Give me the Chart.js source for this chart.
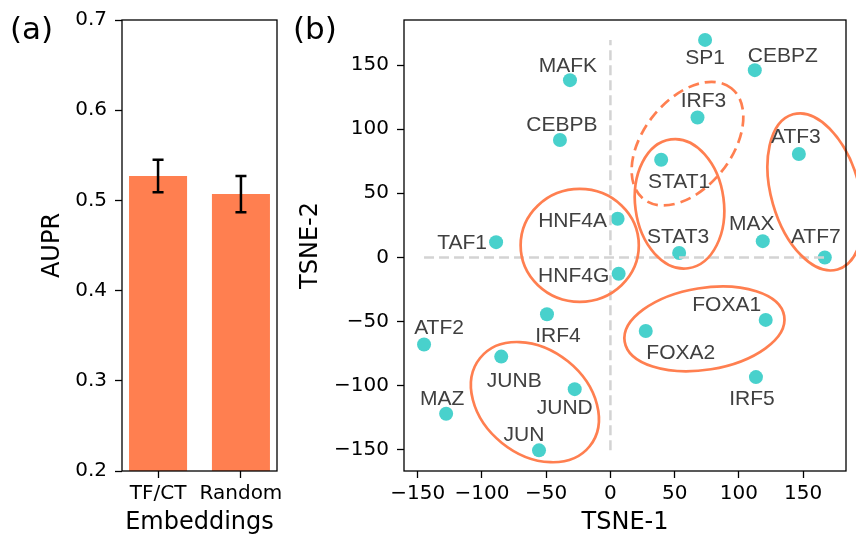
<!DOCTYPE html>
<html>
<head>
<meta charset="utf-8">
<script src="https://cdn.jsdelivr.net/npm/chart.js@4"></script>
<style>
  body { margin: 0; background: #fff; overflow: hidden; }
  #wrap { position: relative; width: 856px; height: 535px; }
  canvas { position: absolute; top: 0; }
  #chartA { left: 0; }
  #chartB { left: 290px; }
  .panel { position: absolute; font-family: "DejaVu Sans"; font-size: 31px; line-height: 31px; color: #000; }
</style>
</head>
<body>
<div id="wrap">
  <canvas id="chartA" width="290" height="535"></canvas>
  <canvas id="chartB" width="566" height="535"></canvas>
  <div class="panel" style="left:10px;top:13px">(a)</div>
  <div class="panel" style="left:293px;top:13px">(b)</div>
</div>
<script>
// (a) AUPR by embedding type
const embeddings = ["TF/CT", "Random"];
const aupr = [0.527, 0.507];
const auprErr = [0.018, 0.020];
const auprTicks = [0.2, 0.3, 0.4, 0.5, 0.6, 0.7];

// (b) TSNE of the TF embeddings
const tfNames = ["SP1", "CEBPZ", "MAFK", "IRF3", "CEBPB", "ATF3", "STAT1", "HNF4A",
  "TAF1", "MAX", "STAT3", "ATF7", "HNF4G", "IRF4", "FOXA1", "FOXA2", "ATF2", "JUNB",
  "IRF5", "JUND", "MAZ", "JUN"];
const tsne1 = [73.7, 112.4, -31.5, 67.8, -39.3, 146.7, 39.5, 5.6,
  -89.0, 118.6, 53.5, 166.9, 6.4, -49.4, 120.9, 27.5, -145.1, -85.0,
  113.3, -27.8, -127.9, -55.6];
const tsne2 = [169.6, 146.0, 138.2, 109.1, 91.5, 80.6, 76.2, 30.1,
  11.9, 12.7, 3.4, 0.0, -12.7, -44.3, -48.7, -57.3, -67.9, -77.3,
  -93.3, -102.7, -121.9, -150.4];
const tsneTicks = [-150, -100, -50, 0, 50, 100, 150];

// circled groups, in TSNE units (centre, half axes, angle in degrees)
const groupX = [60.0, 53.8, 159.5, -23.9, 73.2, -58.8];
const groupY = [88.7, 41.8, 51.1, 9.4, -55.7, -112.8];
const groupA = [55.1, 50.7, 62.9, 46.0, 62.9, 54.8];
const groupB = [34.3, 34.5, 34.3, 44.0, 31.9, 40.9];
const groupAngle = [51.7, 97.6, 106, 0, 9.2, -38.9];
const groupDashed = [true, false, false, false, false, false];

// where each name sits relative to its point (pixels)
const labelOffset = {
  SP1: [0, 18], CEBPZ: [28, -14], MAFK: [-2, -14], IRF3: [6, -16], CEBPB: [2, -15],
  ATF3: [-3, -17], STAT1: [18, 23], HNF4A: [-45, 2], TAF1: [-34, 1], MAX: [-11, -17],
  STAT3: [-1, -16], ATF7: [-9, -20], HNF4G: [-45, 2], IRF4: [11, 22], FOXA1: [-39, -15],
  FOXA2: [35, 22], ATF2: [15, -16], JUNB: [13, 25], IRF5: [-4, 22], JUND: [-10, 19],
  MAZ: [-4, -15], JUN: [-15, -15],
};

const CORAL = "#FF7F50";
const TURQ = "#48D1CC";

Chart.defaults.font.family = "'DejaVu Sans'";
Chart.defaults.color = "#000";

const minus = (v) => String(v).replace("-", "\u2212");

const tickGrid = {
  drawOnChartArea: false,
  offset: false,
  tickLength: 7,
  tickColor: "#000",
  tickWidth: 1.3,
};

const frame = {
  id: "frame",
  afterDatasetsDraw(chart) {
    const { ctx, chartArea: a } = chart;
    ctx.save();
    ctx.strokeStyle = "#000";
    ctx.lineWidth = 1.3;
    ctx.strokeRect(a.left, a.top, a.right - a.left, a.bottom - a.top);
    ctx.restore();
  },
};

const errorBars = {
  id: "errorBars",
  afterDatasetsDraw(chart) {
    const { ctx } = chart;
    const { x, y } = chart.scales;
    ctx.save();
    ctx.strokeStyle = "#000";
    ctx.lineWidth = 2.5;
    aupr.forEach((v, i) => {
      const px = x.getPixelForValue(i);
      const top = y.getPixelForValue(v + auprErr[i]);
      const bot = y.getPixelForValue(v - auprErr[i]);
      ctx.beginPath();
      ctx.moveTo(px, top);
      ctx.lineTo(px, bot);
      ctx.moveTo(px - 5.5, top);
      ctx.lineTo(px + 5.5, top);
      ctx.moveTo(px - 5.5, bot);
      ctx.lineTo(px + 5.5, bot);
      ctx.stroke();
    });
    ctx.restore();
  },
};

new Chart(document.getElementById("chartA"), {
  type: "bar",
  data: {
    datasets: [{
      data: aupr.map((v, i) => ({ x: i, y: v })),
      backgroundColor: CORAL,
      borderWidth: 0,
      barPercentage: 0.7,
      categoryPercentage: 1,
    }],
  },
  options: {
    responsive: false,
    animation: false,
    devicePixelRatio: 1,
    layout: { padding: { top: 19.5, right: 13, bottom: 0, left: 0 } },
    plugins: { legend: { display: false }, tooltip: { enabled: false } },
    scales: {
      x: {
        type: "linear",
        min: -0.435,
        max: 1.435,
        offset: false,
        grid: tickGrid,
        border: { display: false },
        afterBuildTicks: (s) => { s.ticks = embeddings.map((_, i) => ({ value: i })); },
        ticks: { callback: (v) => embeddings[v], padding: 4, font: { size: 20 }, maxRotation: 0, autoSkip: false },
        title: { display: true, text: "Embeddings", font: { size: 24, lineHeight: 1 }, padding: 0 },
        afterFit: (s) => { s.height = 64; },
      },
      y: {
        min: 0.2,
        max: 0.7,
        grid: tickGrid,
        border: { display: false },
        afterBuildTicks: (s) => { s.ticks = auprTicks.map((v) => ({ value: v })); },
        ticks: { callback: (v) => v.toFixed(1), padding: 8, font: { size: 20 } },
        title: { display: true, text: "AUPR", font: { size: 24, lineHeight: 1 }, padding: { top: 40.5, bottom: 0 } },
        afterFit: (s) => { s.width = 122; },
      },
    },
  },
  plugins: [errorBars, frame],
});

const tsneDecor = {
  id: "tsneDecor",
  afterDatasetsDraw(chart) {
    const { ctx } = chart;
    const { x, y } = chart.scales;

    // quadrant guides across the data extent
    ctx.save();
    ctx.strokeStyle = "#d3d3d3";
    ctx.lineWidth = 2.5;
    ctx.setLineDash([10, 5]);
    ctx.beginPath();
    ctx.moveTo(x.getPixelForValue(Math.min(...tsne1)), y.getPixelForValue(0));
    ctx.lineTo(x.getPixelForValue(Math.max(...tsne1)), y.getPixelForValue(0));
    ctx.moveTo(x.getPixelForValue(0), y.getPixelForValue(Math.min(...tsne2)));
    ctx.lineTo(x.getPixelForValue(0), y.getPixelForValue(Math.max(...tsne2)));
    ctx.stroke();
    ctx.restore();

    // circled groups
    const kx = x.getPixelForValue(1) - x.getPixelForValue(0);
    const ky = y.getPixelForValue(0) - y.getPixelForValue(1);
    groupX.forEach((gx, i) => {
      ctx.save();
      ctx.strokeStyle = CORAL;
      ctx.lineWidth = 2.7;
      ctx.setLineDash(groupDashed[i] ? [11, 6] : []);
      ctx.save();
      ctx.translate(x.getPixelForValue(gx), y.getPixelForValue(groupY[i]));
      ctx.scale(kx, -ky);
      ctx.rotate((groupAngle[i] * Math.PI) / 180);
      ctx.beginPath();
      ctx.ellipse(0, 0, groupA[i], groupB[i], 0, 0, Math.PI * 2);
      ctx.restore();
      ctx.stroke();
      ctx.restore();
    });

    frame.afterDatasetsDraw(chart);

    // TF names
    const meta = chart.getDatasetMeta(0);
    ctx.save();
    ctx.fillStyle = "#404040";
    ctx.font = "21px 'Liberation Sans'";
    ctx.textAlign = "center";
    ctx.textBaseline = "middle";
    tfNames.forEach((name, i) => {
      const p = meta.data[i];
      const [dx, dy] = labelOffset[name];
      ctx.fillText(name, p.x + dx, p.y + dy);
    });
    ctx.restore();
  },
};

new Chart(document.getElementById("chartB"), {
  type: "scatter",
  data: {
    datasets: [{
      data: tsne1.map((v, i) => ({ x: v, y: tsne2[i] })),
      backgroundColor: TURQ,
      borderWidth: 0,
      pointRadius: 7,
      pointHoverRadius: 7,
    }],
  },
  options: {
    responsive: false,
    animation: false,
    devicePixelRatio: 1,
    layout: { padding: { top: 19, right: 10, bottom: 0, left: 0 } },
    plugins: { legend: { display: false }, tooltip: { enabled: false } },
    scales: {
      x: {
        type: "linear",
        min: -160.7,
        max: 183.4,
        grid: tickGrid,
        border: { display: false },
        afterBuildTicks: (s) => { s.ticks = tsneTicks.map((v) => ({ value: v })); },
        ticks: { callback: minus, padding: 4, font: { size: 20 }, maxRotation: 0, autoSkip: false },
        title: { display: true, text: "TSNE-1", font: { size: 24, lineHeight: 1 }, padding: 0 },
        afterFit: (s) => { s.height = 64; },
      },
      y: {
        type: "linear",
        min: -166.5,
        max: 185.1,
        grid: tickGrid,
        border: { display: false },
        afterBuildTicks: (s) => { s.ticks = tsneTicks.map((v) => ({ value: v })); },
        ticks: { callback: minus, padding: 8, font: { size: 20 } },
        title: { display: true, text: "TSNE-2", font: { size: 24, lineHeight: 1 }, padding: { top: 8.5, bottom: 0 } },
        afterFit: (s) => { s.width = 114; },
      },
    },
  },
  plugins: [tsneDecor],
});
</script>
</body>
</html>
